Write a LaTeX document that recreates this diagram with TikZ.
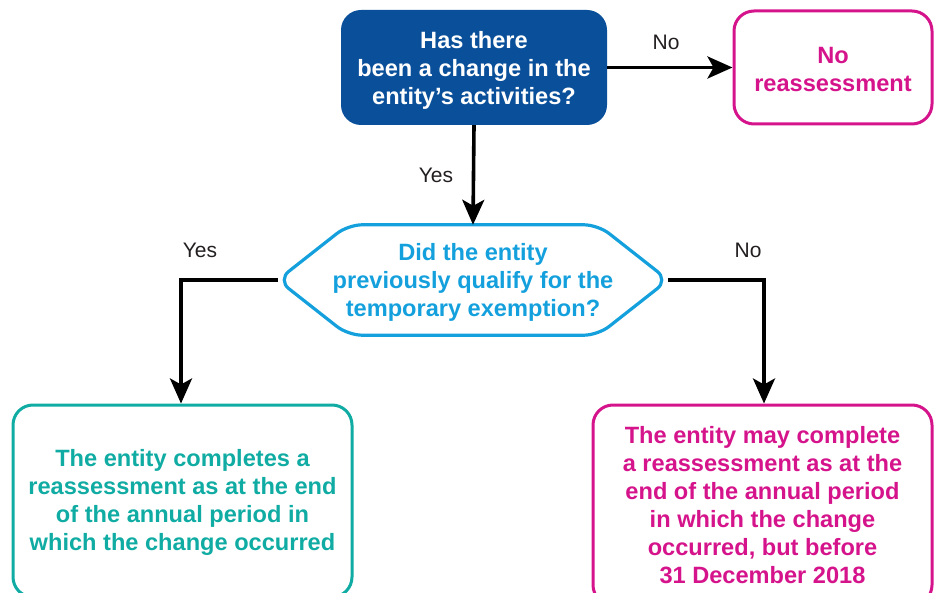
\documentclass[tikz,border=0pt]{standalone}
\usepackage{fontspec}
\setmainfont{Liberation Sans}
\usetikzlibrary{arrows.meta}
\definecolor{kblue}{HTML}{0A4F9A}
\definecolor{kcyan}{HTML}{14A0DC}
\definecolor{kteal}{HTML}{10ACA3}
\definecolor{kpink}{HTML}{D5148C}
\definecolor{klabel}{HTML}{231F20}
\tikzset{
  boxtext/.style={font=\fontsize{23.6}{28}\selectfont\bfseries, align=center, inner sep=0pt},
  rbox/.style={boxtext, rounded corners=20pt, line width=3pt, draw},
  conn/.style={line width=3.6pt, -{Stealth[length=25pt, width=22pt, inset=6pt]}},
  lbl/.style={font=\fontsize{21}{25}\selectfont, text=klabel, inner sep=0pt}
}
\begin{document}
\begin{tikzpicture}[x=1pt, y=-1pt]
\useasboundingbox (0,0) rectangle (941,593);
\clip (0,0) rectangle (941,593);
% top question
\node[boxtext, fill=kblue, text=white, rounded corners=20pt, minimum width=266pt, minimum height=115pt] (a) at (474,67.5)
  {\rule{0pt}{23.5pt}Has there\\been a change in the\\entity’s activities?};
% no reassessment
\node[rbox, draw=kpink, text=kpink, minimum width=198pt, minimum height=113pt] (b) at (833,67.5)
  {\rule{0pt}{19.5pt}No\\reassessment};
% hexagon question
\node[boxtext, text=kcyan, minimum width=390pt, minimum height=110pt] (q) at (473,280)
  {\rule{0pt}{22.5pt}Did the entity\\previously qualify for the\\temporary exemption?};
\draw[kcyan, line width=3.2pt, rounded corners=14pt]
  (q.west) -- ([xshift=-125pt]q.north) -- ([xshift=125pt]q.north) -- (q.east)
  -- ([xshift=125pt]q.south) -- ([xshift=-125pt]q.south) -- cycle;
% left result
\node[rbox, draw=kteal, text=kteal, minimum width=339pt, minimum height=192pt] (l) at (182.5,501)
  {\rule{0pt}{19.5pt}The entity completes a\\reassessment as at the end\\of the annual period in\\which the change occurred};
% right result
\node[rbox, draw=kpink, text=kpink, minimum width=339pt, minimum height=200pt] (r) at (762.5,505)
  {The entity may complete\\a reassessment as at the\\end of the annual period\\in which the change\\occurred, but before\\31 December 2018};
% connectors
\draw[conn] (a.east) -- (b.west);
\node[lbl] (lno1) at (666,42) {No};
\draw[conn] (a.south) -- (q.north);
\node[lbl] (lyes1) at (436,175) {Yes};
\coordinate (lc) at (181,280);
\coordinate (rc) at (764,280);
\draw[conn] (q.west) -- (lc) -- (l.north -| lc);
\node[lbl] (lyes2) at (200,250) {Yes};
\draw[conn] (q.east) -- (rc) -- (r.north -| rc);
\node[lbl] (lno2) at (748,250) {No};
\end{tikzpicture}
\end{document}
